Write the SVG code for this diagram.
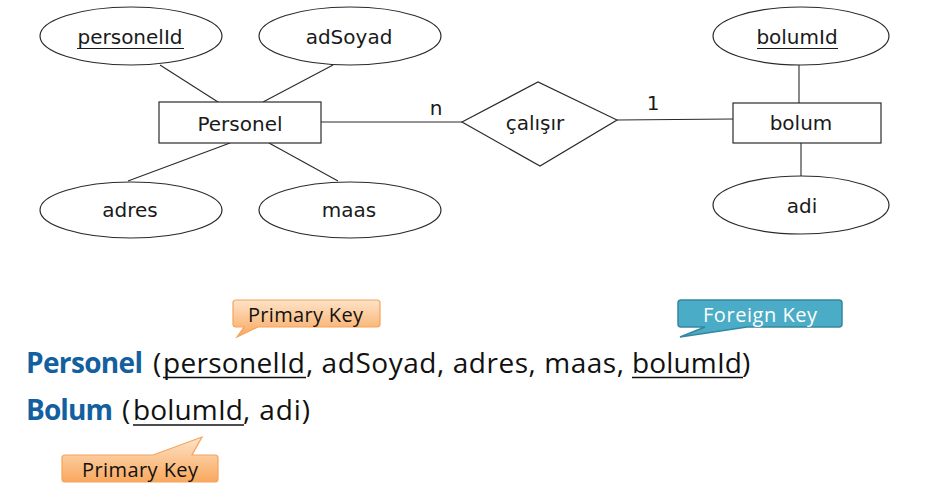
<svg xmlns="http://www.w3.org/2000/svg" width="938" height="499" viewBox="0 0 938 499">
<style>
.sh{fill:#fff;stroke:#2a2a2a;stroke-width:1.2}
.ln{stroke:#2a2a2a;stroke-width:1.1;fill:none}
.dt{font-family:"DejaVu Sans",sans-serif;font-size:20px;fill:#1a1a1a;text-anchor:middle}
.ul{stroke:#1a1a1a;stroke-width:1.2}
.rt{font-family:"Open Sans","Liberation Sans",sans-serif;font-size:28px;fill:#111}
.rb{font-weight:bold;fill:#135f9f}
.ru{stroke:#111;stroke-width:1.6}
.ct{font-family:"Open Sans","Liberation Sans",sans-serif;font-size:20px;fill:#111}
.pk{fill:url(#og);stroke:#f5a35a;stroke-width:1.2}
.fk{fill:#4aacc6;stroke:#35879f;stroke-width:1.5}
</style>
<defs>
<linearGradient id="og" x1="0" y1="0" x2="0" y2="1">
<stop offset="0" stop-color="#fde3c8"/>
<stop offset="1" stop-color="#f9a85e"/>
</linearGradient>
</defs>
<rect width="938" height="499" fill="#fff"/>
<g id="connectors">
<line class="ln" x1="160" y1="65" x2="218" y2="102"/>
<line class="ln" x1="333" y1="65" x2="263" y2="102"/>
<line class="ln" x1="230" y1="143" x2="128" y2="181"/>
<line class="ln" x1="269" y1="143" x2="338" y2="181"/>
<line class="ln" x1="321" y1="122" x2="462" y2="122"/>
<line class="ln" x1="617" y1="120" x2="733" y2="119"/>
<line class="ln" x1="799" y1="65" x2="799" y2="103"/>
<line class="ln" x1="801" y1="143" x2="801" y2="176"/>
<text class="dt" x="436" y="115">n</text>
<text class="dt" x="653" y="110">1</text>
</g>
<g id="personelId">
<ellipse class="sh" cx="131" cy="36" rx="91" ry="29"/>
<text class="dt" x="130" y="44">personelId</text>
<line class="ul" x1="77" y1="48.5" x2="184" y2="48.5"/>
</g>
<g id="adSoyad">
<ellipse class="sh" cx="350" cy="36" rx="91" ry="29"/>
<text class="dt" x="349" y="44">adSoyad</text>
</g>
<g id="Personel">
<rect class="sh" x="159" y="102" width="162" height="41"/>
<text class="dt" x="240" y="131">Personel</text>
</g>
<g id="adres">
<ellipse class="sh" cx="131" cy="210" rx="91" ry="28"/>
<text class="dt" x="130" y="217">adres</text>
</g>
<g id="maas">
<ellipse class="sh" cx="350" cy="210" rx="91" ry="28"/>
<text class="dt" x="349" y="217">maas</text>
</g>
<g id="calisir">
<polygon class="sh" points="462,122 538,82 617,120 540,166"/>
<text class="dt" x="535" y="130">çalışır</text>
</g>
<g id="bolum">
<rect class="sh" x="733" y="103" width="148" height="40"/>
<text class="dt" x="801" y="130">bolum</text>
</g>
<g id="bolumId">
<ellipse class="sh" cx="801" cy="36" rx="88" ry="29"/>
<text class="dt" x="797" y="44">bolumId</text>
<line class="ul" x1="757" y1="48.5" x2="838" y2="48.5"/>
</g>
<g id="adi">
<ellipse class="sh" cx="801" cy="205" rx="88" ry="29"/>
<text class="dt" x="802" y="213">adi</text>
</g>
<g id="relation-personel">
<text class="rt rb" x="26" y="373" textLength="117">Personel</text>
<text class="rt" x="153" y="373">(</text>
<text class="rt" x="163" y="373" textLength="142">personelId</text>
<line class="ru" x1="163" y1="377.5" x2="306" y2="377.5"/>
<text class="rt" x="306" y="373" textLength="318">, adSoyad, adres, maas,</text>
<text class="rt" x="632" y="373" textLength="110">bolumId</text>
<line class="ru" x1="632" y1="377.5" x2="743" y2="377.5"/>
<text class="rt" x="742" y="373">)</text>
</g>
<g id="relation-bolum">
<text class="rt rb" x="26" y="420" textLength="87">Bolum</text>
<text class="rt" x="122" y="420">(</text>
<text class="rt" x="133" y="420" textLength="110">bolumId</text>
<line class="ru" x1="133" y1="425" x2="244" y2="425"/>
<text class="rt" x="243" y="420" textLength="67">, adi)</text>
</g>
<g id="pk1">
<path class="pk" d="M236,300 H377 Q380,300 380,303 V324 Q380,327 377,327 H258 L237,337 L244,327 H236 Q233,327 233,324 V303 Q233,300 236,300 Z"/>
<text class="ct" x="248" y="322" textLength="115">Primary Key</text>
</g>
<g id="fk">
<path class="fk" d="M681,300 H839 Q842,300 842,303 V324 Q842,327 839,327 H747 L680,337 L705,327 H681 Q678,327 678,324 V303 Q678,300 681,300 Z"/>
<text class="ct" x="703" y="322" textLength="114" fill="#fff" style="fill:#fff">Foreign Key</text>
</g>
<g id="pk2">
<path class="pk" d="M65,455 H153 L202,437 L192,455 H215 Q218,455 218,458 V479 Q218,482 215,482 H65 Q62,482 62,479 V458 Q62,455 65,455 Z"/>
<text class="ct" x="82" y="477" textLength="116">Primary Key</text>
</g>
</svg>
